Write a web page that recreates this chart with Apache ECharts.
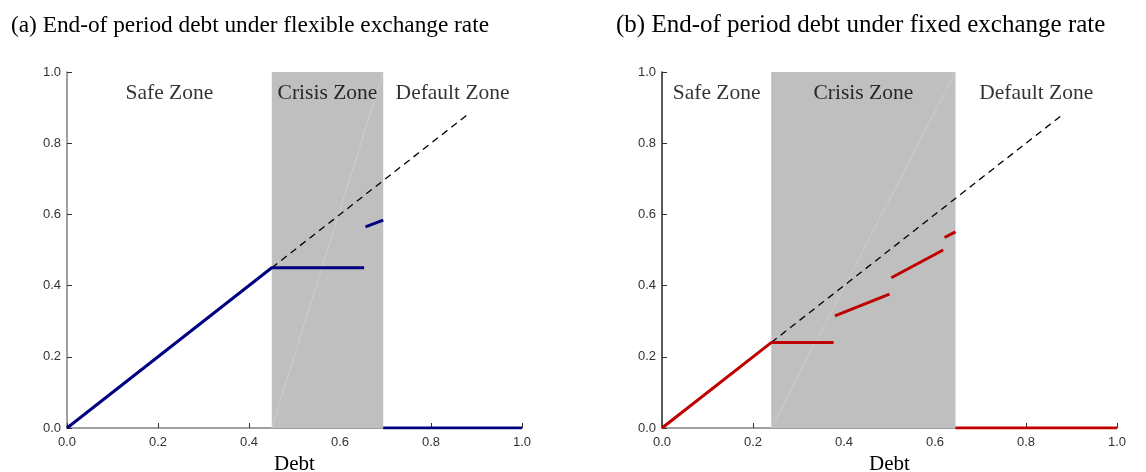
<!DOCTYPE html>
<html>
<head>
<meta charset="utf-8">
<script src="https://cdn.jsdelivr.net/npm/echarts@6/dist/echarts.min.js"></script>
<style>
  html, body { margin: 0; padding: 0; background: #ffffff; }
  #chart { width: 1146px; height: 472px; }
</style>
</head>
<body>
<div id="chart"></div>
<script>
// Panel titles
const panelTitles = [
  '(a) End-of period debt under flexible exchange rate',
  '(b) End-of period debt under fixed exchange rate'
];
const zoneNames = ['Safe Zone', 'Crisis Zone', 'Default Zone'];
const tickValues = [0, 0.2, 0.4, 0.6, 0.8, 1.0];

// Zone boundaries (debt levels) for each regime
const flexZoneBounds = [0.45, 0.695];
const fixedZoneBounds = [0.24, 0.645];

// 45-degree reference line (end points)
const flexDiagonal = [[0.45, 0.45], [0.88, 0.88]];
const fixedDiagonal = [[0.24, 0.24], [0.88, 0.88]];

// End-of-period debt, flexible exchange rate: piecewise segments
const flexSeg1 = [[0, 0], [0.45, 0.45], [0.653, 0.45]];
const flexSeg2 = [[0.656, 0.565], [0.695, 0.584]];
const flexSeg3 = [[0.695, 0], [1.0, 0]];

// End-of-period debt, fixed exchange rate: piecewise segments
const fixedSeg1 = [[0, 0], [0.24, 0.24], [0.377, 0.24]];
const fixedSeg2 = [[0.38, 0.315], [0.50, 0.376]];
const fixedSeg3 = [[0.504, 0.422], [0.618, 0.50]];
const fixedSeg4 = [[0.621, 0.535], [0.645, 0.551]];
const fixedSeg5 = [[0.645, 0], [1.0, 0]];

const flexColor = '#000080';
const fixedColor = '#c00000';
const zoneGray = '#bfbfbf';
const labelY = 0.94;

function zoneLabelData(bounds) {
  const mids = [bounds[0] / 2, (bounds[0] + bounds[1]) / 2, (bounds[1] + 1) / 2];
  return mids.map((m, i) => ({ value: [m, labelY], name: zoneNames[i] }));
}

function xAxisFor(gridIndex) {
  return {
    gridIndex, type: 'value', min: 0, max: 1, interval: 0.2,
    name: 'Debt', nameLocation: 'middle', nameGap: 23,
    nameTextStyle: { fontFamily: 'Liberation Serif', fontSize: 21, color: '#000' },
    axisLine: { show: true, lineStyle: { color: '#808080', width: 1.5 } },
    axisTick: { show: true, inside: true, length: 5, lineStyle: { color: '#333' } },
    axisLabel: { margin: 8, fontFamily: 'Liberation Sans', fontSize: 13, color: '#333',
      formatter: v => v.toFixed(1) },
    splitLine: { show: false }
  };
}
function yAxisFor(gridIndex, lineColor) {
  return {
    gridIndex, type: 'value', min: 0, max: 1, interval: 0.2,
    axisLine: { show: true, lineStyle: { color: lineColor, width: 1.5 } },
    axisTick: { show: true, inside: true, length: 5, lineStyle: { color: '#333' } },
    axisLabel: { margin: 6, fontFamily: 'Liberation Sans', fontSize: 13, color: '#333',
      formatter: v => v.toFixed(1) },
    splitLine: { show: false }
  };
}

function segSeries(data, idx, color, z) {
  return {
    type: 'line', xAxisIndex: idx, yAxisIndex: idx, data,
    showSymbol: false, symbol: 'none', silent: true, z: z || 5,
    lineStyle: { color, width: 3 }
  };
}

function panelSeries(idx, bounds, diag, segs, color) {
  const list = [];
  // shaded crisis zone, with its faint diagonal seam
  list.push({
    type: 'line', xAxisIndex: idx, yAxisIndex: idx,
    data: [[bounds[0], 0], [bounds[1], 1]],
    showSymbol: false, symbol: 'none', silent: true, z: 2,
    lineStyle: { color: '#d4d4d4', width: 0.7 },
    markArea: {
      silent: true,
      itemStyle: { color: zoneGray },
      data: [[{ xAxis: bounds[0] }, { xAxis: bounds[1] }]]
    }
  });
  // 45-degree dashed line
  list.push({
    type: 'line', xAxisIndex: idx, yAxisIndex: idx, data: diag,
    showSymbol: false, symbol: 'none', silent: true, z: 3,
    lineStyle: { color: '#000', width: 1.3, type: [7, 5] }
  });
  segs.forEach(s => list.push(segSeries(s, idx, color, 5)));
  // zone labels
  list.push({
    type: 'scatter', xAxisIndex: idx, yAxisIndex: idx,
    data: zoneLabelData(bounds), symbolSize: 0, silent: true, z: 6,
    label: {
      show: true, position: 'inside', formatter: p => p.name,
      fontFamily: 'Liberation Serif', fontSize: 21.5, color: '#000'
    }
  });
  return list;
}

const chart = echarts.init(document.getElementById('chart'), null, { renderer: 'canvas' });
chart.setOption({
  backgroundColor: '#ffffff',
  animation: false,
  title: [
    { text: panelTitles[0], left: 6, top: 9,
      textStyle: { fontFamily: 'Liberation Serif', fontSize: 23.3, fontWeight: 'normal', color: '#000' } },
    { text: panelTitles[1], left: 611, top: 8,
      textStyle: { fontFamily: 'Liberation Serif', fontSize: 25, fontWeight: 'normal', color: '#000' } }
  ],
  grid: [
    { left: 67, right: 624, top: 72, bottom: 44, outerBoundsMode: 'none' },
    { left: 662, right: 29, top: 72, bottom: 44, outerBoundsMode: 'none' }
  ],
  xAxis: [xAxisFor(0), xAxisFor(1)],
  yAxis: [yAxisFor(0, '#808080'), yAxisFor(1, '#222')],
  series: [
    ...panelSeries(0, flexZoneBounds, flexDiagonal, [flexSeg1, flexSeg2, flexSeg3], flexColor),
    ...panelSeries(1, fixedZoneBounds, fixedDiagonal, [fixedSeg1, fixedSeg2, fixedSeg3, fixedSeg4, fixedSeg5], fixedColor)
  ]
});
</script>
</body>
</html>
